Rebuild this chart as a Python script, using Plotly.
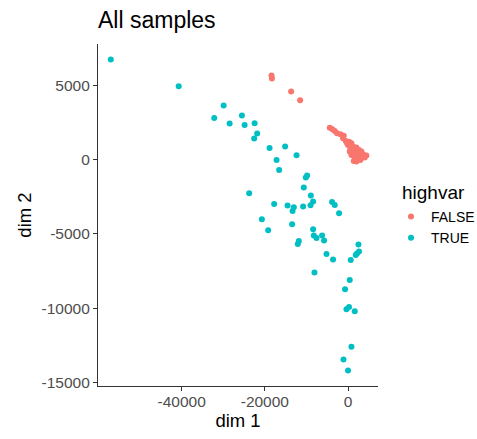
import plotly.graph_objects as go

# FALSE (highvar) points
false_x = [-18400, -18300, -13680, -11520,
           -4392, -3752, -3192, -2632, -1832, -1032, -1192, -552, 248, 808, -12,
           1208, 2008, 568, 1608, 2648, 3208, 2408, 1208, 3608, 4408, 4008, 2968,
           2008, 1368, 2008, 2968, 808, 1848, 2808, -232, 408, 3400, 1600, 2400]
false_y = [5650, 5450, 4576, 3990,
           2142, 2030, 1918, 1762, 1695, 1606, 1427, 1248, 1204, 1092, 980,
           869, 802, 757, 646, 646, 534, 422, 422, 355, 266, 132, 132,
           87, -91, -136, -24, 311, 266, 311, 1092, 534, 200, 150, 0]

# TRUE (highvar) points
true_x = [-57020, -40700, -29900, -32160, -28460, -25510, -24860, -22460, -21840, -22560,
          -18860, -15120, -17180, -12380, -16560, -9840, -10150, -10630,
          -23760, -17760, -14540, -13030, -13340, -10800, -8950, -8400, -9020,
          -3840, -3190, -2160, -20710, -19200, -13440, -8400, -8230, -7580,
          -6240, -5760, -11830, -12070, -5180, -3600, 650, 2500, 2640, 1850, 2160,
          -8070, 410, -720, -380, 240, 1610, 820, -1100, 0]
true_y = [6730, 4933, 3634, 2800, 2423, 2961, 2330, 2443, 1750, 1413,
          781, 875, -27, 289, -700, -1077, -1211, -1884,
          -2268, -2988, -3096, -3210, -3459, -3163, -2423, -2827, -3076,
          -2853, -3055, -3614, -4018, -4758, -4354, -4691, -5115, -5276,
          -5115, -5451, -5478, -5680, -6353, -6730, -6757, -5720, -6190, -6420, -6326,
          -7605, -8100, -8730, -10075, -9920, -10210, -12585, -13440, -14180]

x_ticks = [-40000, -20000, 0]
y_ticks = [5000, 0, -5000, -10000, -15000]

FONT = "Liberation Sans, Arial, sans-serif"
W, H = 477, 439
L, R, T, B = 98, 99, 44, 53
PW, PH = W - L - R, H - T - B

fig = go.Figure()
fig.add_trace(go.Scatter(x=false_x, y=false_y, mode="markers", name="FALSE",
                         marker=dict(color="#F8766D", size=6, line=dict(width=0))))
fig.add_trace(go.Scatter(x=true_x, y=true_y, mode="markers", name="TRUE",
                         marker=dict(color="#00BFC4", size=6, line=dict(width=0))))

axis_common = dict(showgrid=False, zeroline=False, showline=True, linecolor="#333333",
                   linewidth=1.2, ticks="outside", ticklen=4, tickcolor="#333333",
                   tickwidth=1, tickfont=dict(family=FONT, size=15.5, color="#4D4D4D"),
                   mirror=False, automargin=False)

fig.update_layout(
    width=W, height=H,
    paper_bgcolor="white", plot_bgcolor="white",
    margin=dict(l=L, r=R, t=T, b=B, autoexpand=False),
    font=dict(family=FONT, color="black"),
    title=dict(text="All samples", x=L / W, xanchor="left", xref="container",
               y=1 - 20 / H, yanchor="middle", yref="container",
               font=dict(family=FONT, size=23, color="black")),
    xaxis=dict(range=[-60100, 7200], tickvals=x_ticks,
               ticktext=[str(v) for v in x_ticks], ticklabelstandoff=-3,
               title=dict(text="dim 1", font=dict(family=FONT, size=18.5, color="black"), standoff=1),
               **axis_common),
    yaxis=dict(range=[-15230, 7770], tickvals=y_ticks,
               ticktext=[str(v) for v in y_ticks],
               title=dict(text="dim 2", font=dict(family=FONT, size=18.5, color="black"), standoff=5),
               **axis_common),
    legend=dict(font=dict(family=FONT, size=14, color="black"),
                x=(391 - L) / PW, xanchor="left", y=(H - B - 201) / PH, yanchor="top",
                itemsizing="trace", bgcolor="rgba(0,0,0,0)", tracegroupgap=0),
    showlegend=True,
    annotations=[dict(text="highvar", xref="paper", yref="paper",
                      x=(400 - L) / PW, y=(H - B - 192) / PH, xanchor="left", yanchor="middle",
                      showarrow=False, font=dict(family=FONT, size=19, color="black"))],
)

fig.write_html("out.html", config={"displayModeBar": False},
               post_script="document.body.style.margin='0';document.body.style.overflow='hidden';")
